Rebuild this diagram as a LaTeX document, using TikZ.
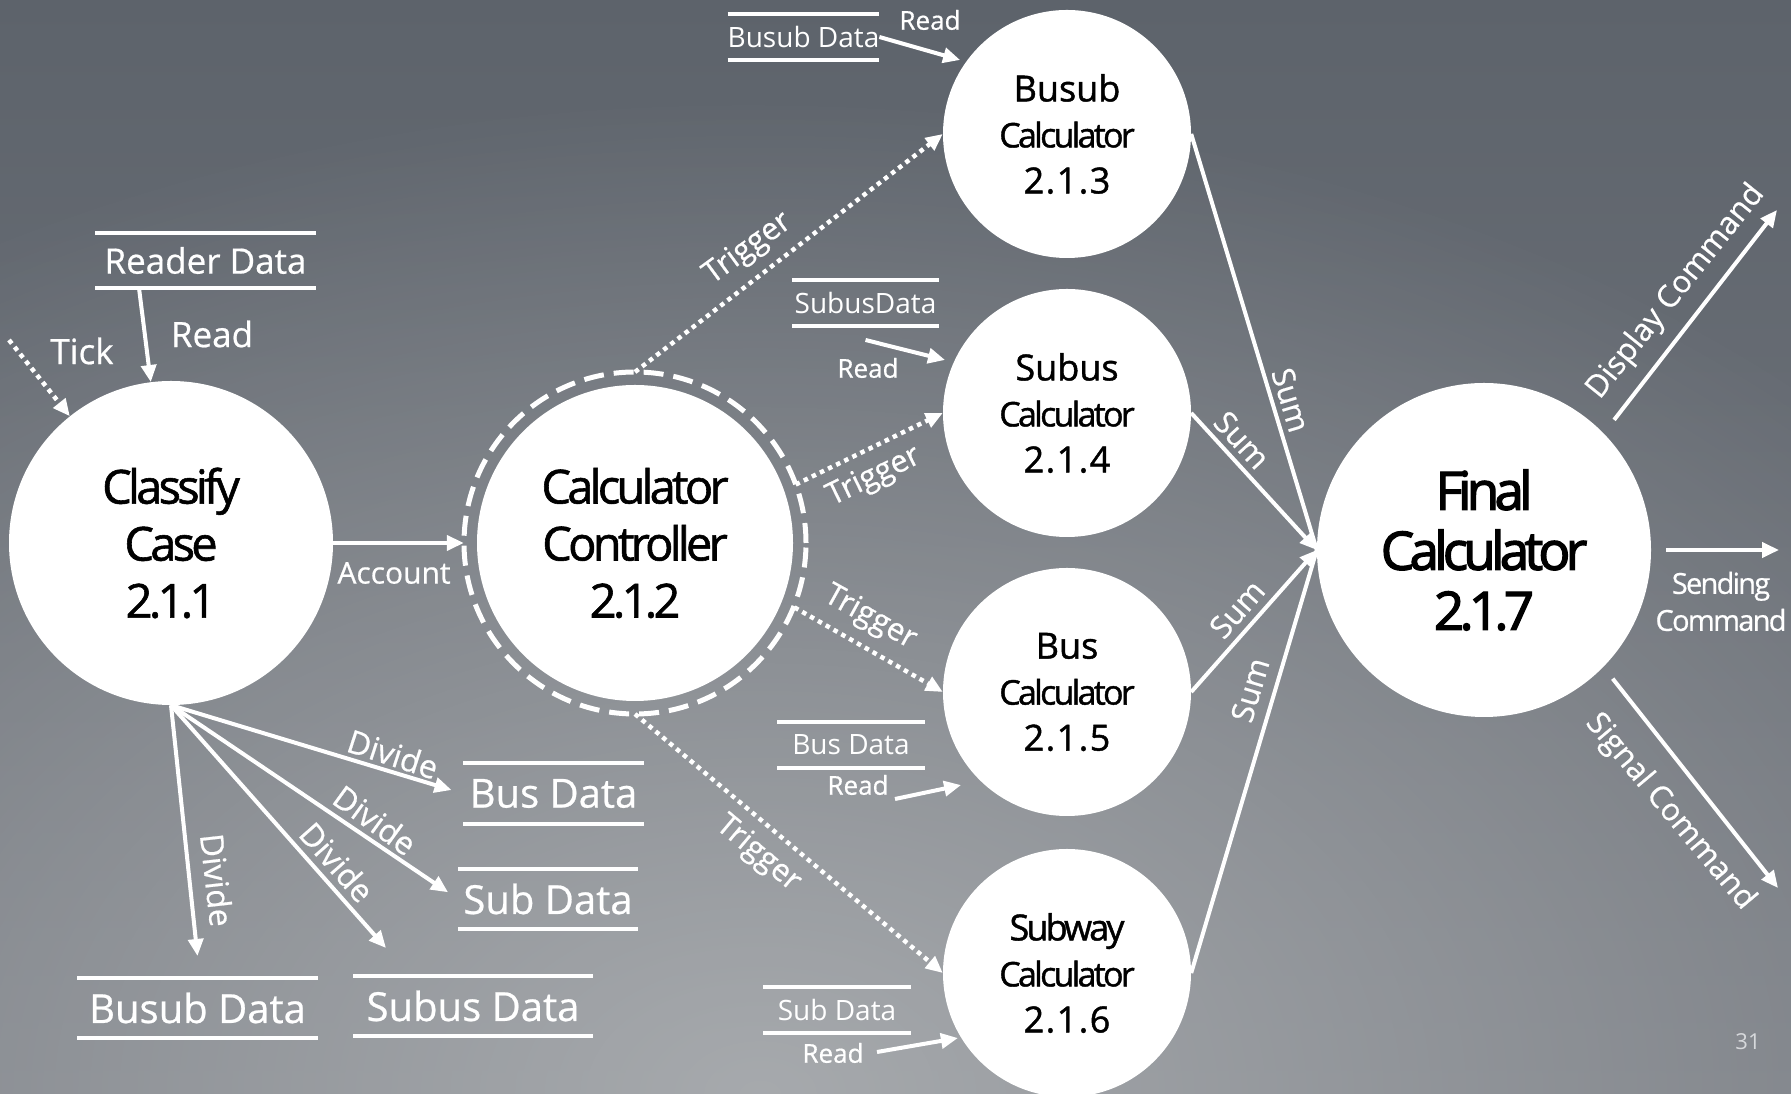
\documentclass[tikz,border=0pt]{standalone}
\usepackage{fontspec}
\setmainfont{Open Sans}
\newfontfamily\labfont[FakeBold=0.6]{Open Sans}
\newfontfamily\circfont[FakeBold=1.2]{Open Sans}
\newfontfamily\circtight[LetterSpace=-8,FakeBold=1.2]{Open Sans}
\newfontfamily\circwide[LetterSpace=4,FakeBold=1.2]{Open Sans}
\newfontfamily\finalfont[LetterSpace=-9,FakeBold=2.5]{Open Sans}
\newfontfamily\sendfont[LetterSpace=-6,FakeBold=0.6]{Open Sans}
\usetikzlibrary{arrows.meta,calc,fadings}
\tikzfading[name=glowfade, inner color=transparent!0, outer color=transparent!100]
\definecolor{bgtop}{RGB}{93,99,107}
\definecolor{bgbot}{RGB}{118,122,129}
\definecolor{glow}{RGB}{172,175,178}
\definecolor{pagenum}{RGB}{215,217,220}
\tikzset{
  proc/.style={circle, fill=white, inner sep=0pt, align=center, text=black},
  lab/.style={text=white, inner sep=0pt, font=\labfont\fontsize{31}{31}\selectfont},
  arr/.style={draw=white, line width=4pt, -{Triangle[length=17pt,width=15pt]}},
  plain/.style={draw=white, line width=4pt},
  dotarr/.style={draw=white, line width=4.5pt, dash pattern=on 4.5pt off 4.5pt, -{Triangle[length=17pt,width=15pt]}},
  ring/.style={draw=white, line width=5pt, dash pattern=on 20pt off 10pt},
  storeline/.style={draw=white, line width=4.5pt},
  store/.style={inner sep=0pt, outer sep=0pt, text=white},
}
\begin{document}
\begin{tikzpicture}[x=1pt,y=1pt]
\useasboundingbox (0,0) rectangle (1791,1094);
% background
\shade[top color=bgtop, bottom color=bgbot] (0,0) rectangle (1791,1094);
\fill[glow, path fading=glowfade, fill opacity=0.9] (760,0) ellipse (1500 and 1000);

% process circles
\node[proc, minimum size=324pt, font=\fontsize{47}{57}\selectfont\circtight] (cc) at (171,551) {Classify\\Case\\2.1.1};
\node[proc, minimum size=316pt, font=\fontsize{47}{57}\selectfont\circtight] (ctl) at (635,551) {Calculator\\Controller\\2.1.2};
\draw[ring] (ctl.center) circle[radius=171];
\node[proc, minimum size=248pt, font=\fontsize{36}{46}\selectfont\circfont] (bsc) at (1067,960) {Busub\\{\circtight\fontsize{34}{46}\selectfont Calculator}\\{\circwide 2.1.3}};
\node[proc, minimum size=248pt, font=\fontsize{36}{46}\selectfont\circfont] (sbc) at (1067,681) {Subus\\{\circtight\fontsize{34}{46}\selectfont Calculator}\\{\circwide 2.1.4}};
\node[proc, minimum size=248pt, font=\fontsize{36}{46}\selectfont\circfont] (bc) at (1067,402) {Bus\\{\circtight\fontsize{34}{46}\selectfont Calculator}\\{\circwide 2.1.5}};
\node[proc, minimum size=248pt, font=\fontsize{36}{46}\selectfont\circfont] (swc) at (1067,121) {{\circtight Subway}\\{\circtight\fontsize{34}{46}\selectfont Calculator}\\{\circwide 2.1.6}};
\node[proc, minimum size=334pt, font=\fontsize{53}{60}\selectfont\finalfont] (fc) at (1484,544) {Final\\Calculator\\2.1.7};

% data stores
\node[store, minimum width=221pt, minimum height=55pt, font=\labfont\fontsize{35}{35}\selectfont] (rd) at (205.5,833.5) {Reader Data};
\node[store, minimum width=147pt, minimum height=46pt, font=\fontsize{28}{28}\selectfont] (bsd) at (803.5,1057) {Busub Data};
\node[store, minimum width=147pt, minimum height=46pt, font=\fontsize{28}{28}\selectfont] (sbd) at (865.5,791) {SubusData};
\node[store, minimum width=148pt, minimum height=46pt, font=\fontsize{28}{28}\selectfont] (bd) at (851,349) {Bus Data};
\node[store, minimum width=148pt, minimum height=46pt, font=\fontsize{28}{28}\selectfont] (sd) at (837,84) {Sub Data};
\node[store, minimum width=181pt, minimum height=61pt, font=\labfont\fontsize{40}{40}\selectfont] (bdb) at (553.5,300.5) {Bus Data};
\node[store, minimum width=180pt, minimum height=60pt, font=\labfont\fontsize{40}{40}\selectfont] (sdb) at (548,195) {Sub Data};
\node[store, minimum width=241pt, minimum height=60pt, font=\labfont\fontsize{40}{40}\selectfont] (bsdb) at (197.5,86) {Busub Data};
\node[store, minimum width=240pt, minimum height=60pt, font=\labfont\fontsize{40}{40}\selectfont] (sbdb) at (473,88) {Subus Data};
\foreach \s in {rd,bsd,sbd,bd,sd,bdb,sdb,bsdb,sbdb}{
  \draw[storeline] (\s.north west) -- (\s.north east) (\s.south west) -- (\s.south east);
}

% inputs to Classify Case
\coordinate (tick0) at (9,754);
\draw[dotarr] (tick0) -- (cc);
\node[lab, font=\labfont\fontsize{35}{35}\selectfont] (ticklab) at (82,743) {Tick};
\draw[arr] ([xshift=44pt]rd.south west) -- (cc);
\node[lab, font=\labfont\fontsize{35}{35}\selectfont] (readlab) at (212,760) {Read};

% account
\draw[arr, shorten >=13pt] (cc) -- (ctl);
\node[lab, font=\labfont\fontsize{30}{30}\selectfont] (acclab) at (394,521) {Account};

% triggers
\draw[dotarr] ($(ctl.center)+(90:171)$) -- (bsc.west);
\draw[dotarr] ($(ctl.center)+(20:171)$) -- (sbc.west);
\draw[dotarr] ($(ctl.center)+(-22:172)$) -- (bc.west);
\draw[dotarr] ($(ctl.center)+(-90:171)$) -- (swc.west);
\node[lab, rotate=36.2] (tr1) at (748,845) {Trigger};
\node[lab, rotate=26] (tr2) at (874,617) {Trigger};
\node[lab, rotate=-29] (tr3) at (870,476) {Trigger};
\node[lab, rotate=-40] (tr4) at (758,240) {Trigger};

% reads into calculators
\draw[arr] (bsd.east) -- ($(bsc.center)+(145.3:130)$);
\draw[arr] ([yshift=-14pt]sbd.south) -- ($(sbc.center)+(156.5:133)$);
\draw[arr] ([shift={(44pt,-31pt)}]bd.south) -- ($(bc.center)+(221.3:141)$);
\draw[arr] ([shift={(40pt,-19pt)}]sd.south) -- ($(swc.center)+(210.8:127)$);
\node[lab, font=\labfont\fontsize{26}{26}\selectfont] (rl1) at (930,1074) {Read};
\node[lab, font=\labfont\fontsize{26}{26}\selectfont] (rl2) at (868,726) {Read};
\node[lab, font=\labfont\fontsize{26}{26}\selectfont] (rl3) at (858,309) {Read};
\node[lab, font=\labfont\fontsize{26}{26}\selectfont] (rl4) at (833,41) {Read};

% divide
\draw[arr, shorten >=12pt] (cc.south) -- (bdb.west);
\draw[arr, shorten >=12pt] (cc.south) -- (sdb.west);
\draw[arr] (cc.south) -- ([shift={(33pt,28pt)}]sbdb.north west);
\draw[arr] (cc.south) -- ([yshift=22pt]bsdb.north);
\node[lab, font=\labfont\fontsize{32}{32}\selectfont, rotate=-18] (dv1) at (393,340) {Divide};
\node[lab, font=\labfont\fontsize{32}{32}\selectfont, rotate=-36] (dv2) at (375,274) {Divide};
\node[lab, font=\labfont\fontsize{32}{32}\selectfont, rotate=-48.5] (dv3) at (337,232) {Divide};
\node[lab, font=\labfont\fontsize{32}{32}\selectfont, rotate=-83.6] (dv4) at (217,214) {Divide};

% sums
\draw[plain] (bsc.east) -- (fc.west);
\draw[arr] (sbc.east) -- (fc.west);
\draw[arr] (bc.east) -- (fc.west);
\draw[plain] (swc.east) -- (fc.west);
\node[lab, rotate=-73.2] (sm1) at (1291,694) {Sum};
\node[lab, rotate=-47.4] (sm2) at (1242,654) {Sum};
\node[lab, rotate=48.6] (sm3) at (1237,485) {Sum};
\node[lab, rotate=73.4] (sm4) at (1250,404) {Sum};

% outputs
\coordinate (dispEnd) at (1777,884);
\coordinate (sendEnd) at (1779,544);
\coordinate (sigEnd) at (1778,206);
\draw[arr] ($(fc.center)+(45:184)$) -- (dispEnd);
\draw[arr] ([xshift=15pt]fc.east) -- (sendEnd);
\draw[arr] ($(fc.center)+(-45:182)$) -- (sigEnd);
\node[lab, font=\labfont\fontsize{31}{31}\selectfont, rotate=51.3] (displab) at (1676,802) {Display Command};
\node[lab, font=\sendfont\fontsize{29}{37}\selectfont, align=center] (sendlab) at (1721,492.5) {Sending\\Command};
\node[lab, font=\labfont\fontsize{31}{31}\selectfont, rotate=-50] (siglab) at (1670,282) {Signal Command};

\node[text=pagenum, inner sep=0pt, font=\fontsize{22}{22}\selectfont] (pg) at (1748,52) {31};
\end{tikzpicture}
\end{document}
